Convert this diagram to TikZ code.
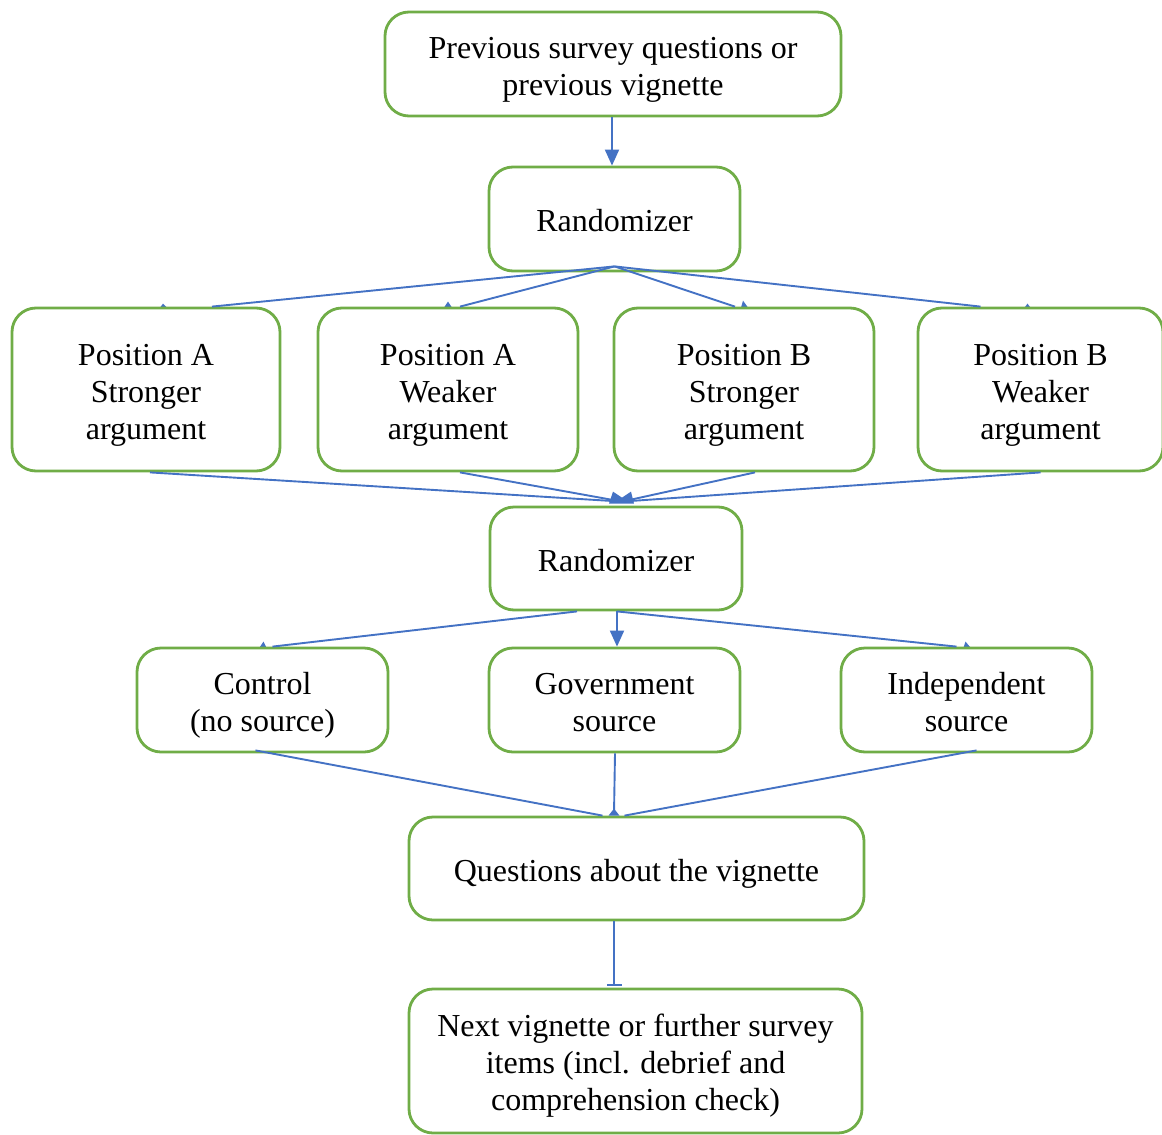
\documentclass[tikz,border=0pt]{standalone}
\usepackage{fontspec}
\setmainfont{Liberation Serif}
\usetikzlibrary{calc,arrows.meta,backgrounds}
\definecolor{boxgreen}{HTML}{70AD47}
\definecolor{linkblue}{HTML}{4472C4}
\newlength\bxh
\newlength\bxd
\newcommand\boxtext[1]{{\setbox0\hbox{\begin{tabular}{@{}c@{}}#1\end{tabular}}%
  \setlength\bxh{\dimexpr\ht0+5.3pt\relax}\setlength\bxd{\dp0}%
  \raisebox{0pt}[\bxh][\bxd]{\box0}}}
\tikzset{
  box/.style={draw=boxgreen, line width=1.4pt, rounded corners=12pt, fill=white,
    align=center, inner sep=0pt, font=\fontsize{16}{18.5}\selectfont},
  conn/.style={draw=linkblue, line width=0.95pt},
  headtip/.style={fill=linkblue},
  arr/.style={conn, -{Triangle[width=7pt,length=8pt]}},
}
\begin{document}
\begin{tikzpicture}[x=0.5pt,y=-0.5pt]
\useasboundingbox (0,0) rectangle (1162,1135);
% boxes
\node[box, minimum width=228pt, minimum height=52pt] (top) at (613,64) {\boxtext{Previous survey questions or\\previous vignette}};
\node[box, minimum width=125.5pt, minimum height=52pt] (r1) at (614.5,219) {\boxtext{Randomizer}};
\node[box, minimum width=134pt, minimum height=81.5pt] (pas) at (146,389.5) {\boxtext{Position A\\Stronger\\argument}};
\node[box, minimum width=130pt, minimum height=81.5pt] (paw) at (448,389.5) {\boxtext{Position A\\Weaker\\argument}};
\node[box, minimum width=130pt, minimum height=81.5pt] (pbs) at (744,389.5) {\boxtext{Position B\\Stronger\\argument}};
\node[box, minimum width=122.5pt, minimum height=81.5pt] (pbw) at (1040.5,389.5) {\boxtext{Position B\\Weaker\\argument}};
\node[box, minimum width=126pt, minimum height=51.5pt] (r2) at (616,558.5) {\boxtext{Randomizer}};
\node[box, minimum width=125.5pt, minimum height=52pt] (ctrl) at (262.5,700) {\boxtext{Control\\(no source)}};
\node[box, minimum width=125.5pt, minimum height=52pt] (gov) at (614.5,700) {\boxtext{Government\\source}};
\node[box, minimum width=125.5pt, minimum height=52pt] (ind) at (966.5,700) {\boxtext{Independent\\source}};
\node[box, minimum width=227.5pt, minimum height=51.5pt] (q) at (636.5,868.5) {\boxtext{Questions about the vignette}};
\node[box, minimum width=226.5pt, minimum height=72pt] (nx) at (635.5,1061) {\boxtext{Next vignette or further survey\\items (incl. debrief and\\comprehension check)}};

% hidden arrow heads (mostly behind boxes)
\begin{scope}[on background layer]
\fill[headtip] ($(pas.north)+(14,1)$) -- ($(pas.north)+(17,-3)$) -- ($(pas.north)+(21,1)$) -- cycle;
\fill[headtip] ($(paw.north)+(-4,1)$) -- ($(paw.north)+(0,-5)$) -- ($(paw.north)+(4,1)$) -- cycle;
\fill[headtip] ($(pbs.north)+(-3,1)$) -- ($(pbs.north)+(-1,-6)$) -- ($(pbs.north)+(4,1)$) -- cycle;
\fill[headtip] ($(pbw.north)+(-16,1)$) -- ($(pbw.north)+(-13,-3)$) -- ($(pbw.north)+(-10,1)$) -- cycle;
\fill[headtip] ($(ctrl.north)+(-3,1)$) -- ($(ctrl.north)+(1,-5)$) -- ($(ctrl.north)+(4,1)$) -- cycle;
\fill[headtip] ($(ind.north)+(-3,1)$) -- ($(ind.north)+(-1,-5)$) -- ($(ind.north)+(4,1)$) -- cycle;
\end{scope}

% connectors
\draw[arr] ($(top.south)+(-1,0)$) -- ($(r1.north)+(-2.5,0)$);

\coordinate (f1) at ($(r1.south)+(0,-6)$);
\draw[conn] (f1) -- ($(pas.north)+(66,0)$);
\draw[conn] (f1) -- ($(paw.north)+(12,0)$);
\draw[conn] (f1) -- ($(pbs.north)+(-9,0)$);
\draw[conn] (f1) -- ($(pbw.north)+(-60,0)$);

\coordinate (m1) at ($(r2.north)+(6,-4)$);
\draw[conn] ($(pas.south)+(4,0)$) -- (m1);
\draw[conn] ($(paw.south)+(12,0)$) -- (m1);
\draw[conn] ($(pbs.south)+(11,0)$) -- (m1);
\draw[conn] ($(pbw.south)+(0,0)$) -- (m1);
\fill[headtip] ($(r2.north)+(-7,-2)$) -- ($(r2.north)+(-3,-14)$) -- ($(r2.north)+(6,-8)$) -- ($(r2.north)+(15,-14)$) -- ($(r2.north)+(18,-2)$) -- cycle;

\draw[conn] ($(r2.south)+(-39,0)$) -- ($(ctrl.north)+(10,0)$);
\draw[arr] ($(r2.south)+(1,0)$) -- ($(gov.north)+(2.5,0)$);
\draw[conn] ($(r2.south)+(1,0)$) -- ($(ind.north)+(-10,0)$);

\draw[conn] ($(ctrl.south)+(-7,-3)$) -- ($(q.north)+(-34,0)$);
\draw[conn] ($(gov.south)+(0.5,0)$) -- ($(q.north)+(-22.5,-2)$);
\draw[conn] ($(ind.south)+(10,-3)$) -- ($(q.north)+(-12,0)$);
\fill[headtip] ($(q.north)+(-28,0)$) -- ($(q.north)+(-22.5,-7)$) -- ($(q.north)+(-17,0)$) -- cycle;

\draw[conn, -{Bar[width=7.5pt]}] ($(q.south)+(-22.5,0)$) -- ($(nx.north)+(-21.5,-2)$);
\end{tikzpicture}
\end{document}
